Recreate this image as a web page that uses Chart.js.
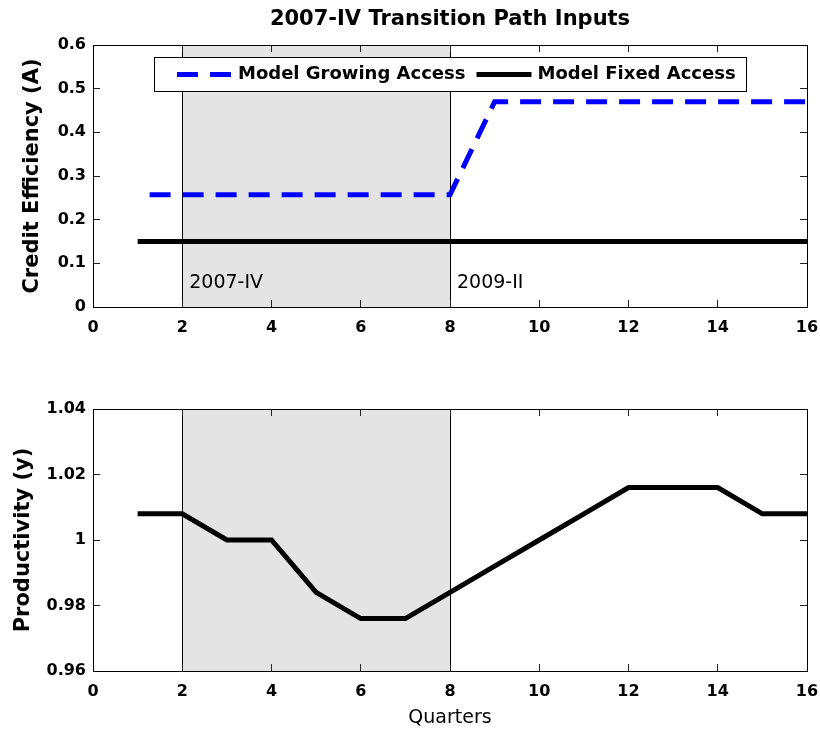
<!DOCTYPE html>
<html>
<head>
<meta charset="utf-8">
<title>2007-IV Transition Path Inputs</title>
<script src="https://cdn.jsdelivr.net/npm/chart.js@4/dist/chart.umd.min.js"></script>
<style>
  body { margin: 0; background: #fff; }
  canvas { display: block; }
</style>
</head>
<body>
<canvas id="topChart" width="820" height="365"></canvas>
<canvas id="bottomChart" width="820" height="366"></canvas>
<script>
// data
const quarters = [1, 2, 3, 4, 5, 6, 7, 8, 9, 10, 11, 12, 13, 14, 15, 16];
const growingAccess = [0.257, 0.257, 0.257, 0.257, 0.257, 0.257, 0.257, 0.257,
                       0.47, 0.47, 0.47, 0.47, 0.47, 0.47, 0.47, 0.47];
const fixedAccess = [0.15, 0.15, 0.15, 0.15, 0.15, 0.15, 0.15, 0.15,
                     0.15, 0.15, 0.15, 0.15, 0.15, 0.15, 0.15, 0.15];
const productivity = [1.008, 1.008, 1.000, 1.000, 0.984, 0.976, 0.976, 0.984,
                      0.992, 1.000, 1.008, 1.016, 1.016, 1.016, 1.008, 1.008];
const recession = [2, 8];
const recessionLabels = ['2007-IV', '2009-II'];
const recessionLabelY = 0.044;

Chart.defaults.font.family = '"DejaVu Sans", sans-serif';
Chart.defaults.color = '#000';

const pts = vals => quarters.map((q, i) => ({x: q, y: vals[i]}));
const yLabel = v => String(+v.toFixed(2));

// grey recession band with its edge lines (and optional labels)
const recessionBand = {
  id: 'recessionBand',
  beforeDraw(chart, args, opts) {
    const {ctx, chartArea: a, scales} = chart;
    const x0 = scales.x.getPixelForValue(recession[0]);
    const x1 = scales.x.getPixelForValue(recession[1]);
    ctx.save();
    ctx.fillStyle = '#e4e4e4';
    ctx.fillRect(x0, a.top, x1 - x0, a.bottom - a.top);
    ctx.strokeStyle = '#000';
    ctx.lineWidth = 1;
    ctx.beginPath();
    [x0, x1].forEach(px => {
      const p = Math.round(px) + 0.5;
      ctx.moveTo(p, a.top);
      ctx.lineTo(p, a.bottom);
    });
    ctx.stroke();
    if (opts.labels) {
      const y = scales.y.getPixelForValue(recessionLabelY);
      ctx.fillStyle = '#000';
      ctx.font = '19px "DejaVu Sans"';
      ctx.textBaseline = 'alphabetic';
      ctx.fillText(recessionLabels[0], x0 + 7, y);
      ctx.fillText(recessionLabels[1], x1 + 7, y);
    }
    ctx.restore();
  }
};

// boxed legend inside the plot area, in one row
const boxLegend = {
  id: 'boxLegend',
  afterDatasetsDraw(chart, args, opts) {
    if (!opts.display) return;
    const {ctx, chartArea: a} = chart;
    ctx.save();
    ctx.font = 'bold 18px "DejaVu Sans"';
    const sample = 55, gapText = 6, gapItem = 11, padL = 23, padR = 10, h = 34;
    const items = chart.data.datasets.map(ds => ({ds, w: ctx.measureText(ds.label).width}));
    let total = padL + padR;
    items.forEach((it, i) => { total += sample + gapText + it.w + (i ? gapItem : 0); });
    const left = Math.round((a.left + a.right) / 2 - total / 2);
    const top = Math.round(a.top + 12);
    ctx.fillStyle = '#fff';
    ctx.fillRect(left, top, total, h);
    ctx.strokeStyle = '#000';
    ctx.lineWidth = 1;
    ctx.strokeRect(left + 0.5, top + 0.5, Math.round(total), h);
    let cx = left + padL;
    const cy = top + h / 2 + 0.5;
    items.forEach((it, i) => {
      if (i) cx += gapItem;
      ctx.beginPath();
      ctx.strokeStyle = it.ds.borderColor;
      ctx.lineWidth = it.ds.borderWidth;
      ctx.setLineDash(it.ds.borderDash || []);
      ctx.moveTo(cx, cy);
      ctx.lineTo(cx + sample, cy);
      ctx.stroke();
      ctx.setLineDash([]);
      cx += sample + gapText;
      ctx.fillStyle = '#000';
      ctx.textBaseline = 'middle';
      ctx.fillText(it.ds.label, cx, cy);
      cx += it.w;
    });
    ctx.restore();
  }
};

function scalesFor(c) {
  const grid = {drawOnChartArea: false, drawTicks: true, tickLength: -7, color: '#222', lineWidth: 1};
  const border = {display: true, color: '#000', width: 1};
  return {
    x: {
      type: 'linear', position: 'bottom', min: 0, max: 16,
      ticks: {stepSize: 2, padding: 18, maxRotation: 0, font: {size: 16, weight: 'bold'}},
      grid, border,
      title: c.xTitle
        ? {display: true, text: c.xTitle, font: {size: 19, weight: 'normal'}, padding: {top: 0, bottom: 2}}
        : {display: false},
      afterFit: s => { s.height = c.xHeight; s.paddingLeft = 0; s.paddingRight = 0; }
    },
    x2: {
      type: 'linear', position: 'top', min: 0, max: 16,
      ticks: {stepSize: 2, display: false},
      grid, border,
      afterFit: s => { s.height = 0; s.paddingLeft = 0; s.paddingRight = 0; }
    },
    y: {
      type: 'linear', position: 'left', min: c.yMin, max: c.yMax,
      ticks: {stepSize: c.yStep, padding: 14, font: {size: 16, weight: 'bold'}, callback: yLabel},
      grid, border,
      title: {display: true, text: c.yTitle, font: {size: 21, weight: 'bold'}, padding: {top: c.yTitlePad, bottom: 0}},
      afterFit: s => { s.width = 93; }
    },
    y2: {
      type: 'linear', position: 'right', min: c.yMin, max: c.yMax,
      ticks: {stepSize: c.yStep, display: false},
      grid, border,
      afterFit: s => { s.width = 13; }
    }
  };
}

const lineStyle = {pointRadius: 0, tension: 0, fill: false, borderCapStyle: 'butt'};

new Chart(document.getElementById('topChart'), {
  type: 'line',
  data: {
    datasets: [
      {label: 'Model Growing Access', data: pts(growingAccess), borderColor: '#0000ff', borderWidth: 5,
       borderDash: [21, 12], borderDashOffset: 21, ...lineStyle},
      {label: 'Model Fixed Access', data: pts(fixedAccess), borderColor: '#000', borderWidth: 5, ...lineStyle}
    ]
  },
  options: {
    responsive: false,
    animation: false,
    layout: {padding: 0, autoPadding: false},
    scales: scalesFor({yMin: 0, yMax: 0.6, yStep: 0.1, yTitle: 'Credit Efficiency (A)', yTitlePad: 20, xHeight: 58}),
    plugins: {
      legend: {display: false},
      tooltip: {enabled: false},
      title: {display: true, fullSize: false, text: '2007-IV Transition Path Inputs',
              font: {size: 21, weight: 'bold'}, padding: {top: 7, bottom: 12.8}},
      recessionBand: {labels: true},
      boxLegend: {display: true}
    }
  },
  plugins: [recessionBand, boxLegend]
});

new Chart(document.getElementById('bottomChart'), {
  type: 'line',
  data: {
    datasets: [
      {label: 'Productivity', data: pts(productivity), borderColor: '#000', borderWidth: 5, ...lineStyle}
    ]
  },
  options: {
    responsive: false,
    animation: false,
    layout: {padding: {top: 44}, autoPadding: false},
    scales: scalesFor({yMin: 0.96, yMax: 1.04, yStep: 0.02, yTitle: 'Productivity (y)', yTitlePad: 11,
                       xTitle: 'Quarters', xHeight: 60}),
    plugins: {
      legend: {display: false},
      tooltip: {enabled: false},
      recessionBand: {labels: false},
      boxLegend: {display: false}
    }
  },
  plugins: [recessionBand, boxLegend]
});
</script>
</body>
</html>
